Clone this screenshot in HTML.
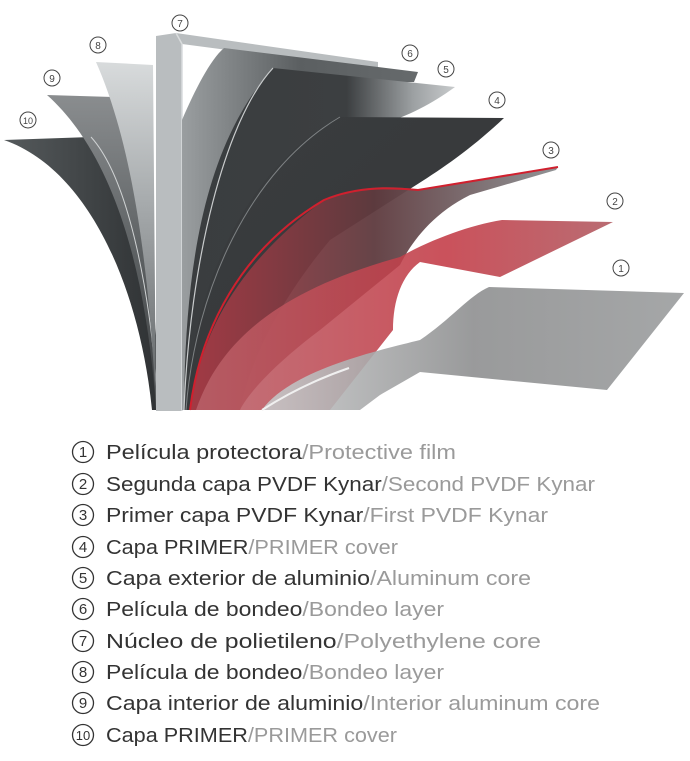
<!DOCTYPE html>
<html><head><meta charset="utf-8"><style>
html,body{margin:0;padding:0;background:#fff;}
svg{display:block;font-family:"Liberation Sans",sans-serif;}
</style></head><body>
<svg width="690" height="761" viewBox="0 0 690 761" xmlns="http://www.w3.org/2000/svg">
<defs>
<linearGradient id="g10" x1="0" y1="0" x2="1" y2="0"><stop offset="0" stop-color="#555a5c"/><stop offset="1" stop-color="#2f3234"/></linearGradient>
<linearGradient id="g9" x1="0" y1="0" x2="0" y2="1"><stop offset="0" stop-color="#8a8d8f"/><stop offset="0.5" stop-color="#5d6163"/><stop offset="1" stop-color="#3c3f41"/></linearGradient>
<linearGradient id="g8" x1="0" y1="0" x2="0" y2="1"><stop offset="0" stop-color="#d8dbdc"/><stop offset="0.4" stop-color="#a7abad"/><stop offset="1" stop-color="#5c6062"/></linearGradient>
<linearGradient id="g6" x1="0" y1="0" x2="1" y2="0"><stop offset="0" stop-color="#9a9ea0"/><stop offset="0.5" stop-color="#5b5f61"/><stop offset="1" stop-color="#666a6c"/></linearGradient>
<linearGradient id="g5" x1="0" y1="0" x2="1" y2="0"><stop offset="0" stop-color="#3a3d3f"/><stop offset="0.6" stop-color="#3c3f41"/><stop offset="0.85" stop-color="#9ea2a4"/><stop offset="1" stop-color="#c8cbcc"/></linearGradient>
<linearGradient id="g4" x1="0" y1="0" x2="1" y2="1"><stop offset="0" stop-color="#3a3d3f"/><stop offset="0.6" stop-color="#37393b"/><stop offset="1" stop-color="#4a3034"/></linearGradient>
<linearGradient id="g3" x1="0" y1="0" x2="1" y2="0"><stop offset="0" stop-color="#a83a45"/><stop offset="0.5" stop-color="#5e3a3e"/><stop offset="1" stop-color="#8b8e90"/></linearGradient>
<linearGradient id="g2" x1="0" y1="0" x2="1" y2="0"><stop offset="0" stop-color="#b86068"/><stop offset="0.6" stop-color="#c33a45"/><stop offset="1" stop-color="#b0585f"/></linearGradient>
<linearGradient id="g1" x1="0" y1="0" x2="1" y2="0"><stop offset="0" stop-color="#c8c9ca"/><stop offset="0.5" stop-color="#8e8f90"/><stop offset="1" stop-color="#9b9d9e"/></linearGradient>
</defs>

<!-- 10 -->
<path d="M4,140 L91,137 C130,180 152,300 158,410 L152,410 C140,290 90,170 4,140 Z" fill="url(#g10)"/>
<!-- 9 -->
<path d="M47,95 L113,97 C140,140 155,280 160,410 L156,410 C148,290 120,160 47,95 Z" fill="url(#g9)"/>
<path d="M91,137 C130,180 152,300 158,410" stroke="#cfd2d3" stroke-width="1" fill="none"/>
<!-- 8 -->
<path d="M96,62 L153,65 L156,410 C150,280 135,150 96,62 Z" fill="url(#g8)"/>
<!-- 7 stem -->
<path d="M156,36 L176,33 L378,62 L378,70 L182,44 L182,411 L156,411 Z" fill="#b9bdbf"/>
<path d="M176,33 L182,44 L182,411" stroke="#d9dcdd" stroke-width="1.5" fill="none"/>
<!-- 6 -->
<path d="M224,48 L418,72 L414,82 L300,82 C240,150 205,300 200,410 L182,410 L182,120 C195,90 210,60 224,48 Z" fill="url(#g6)"/>
<!-- 5 -->
<path d="M273,68 L455,87 C430,105 410,115 380,125 C280,190 225,320 215,410 L184,410 C185,280 200,150 273,68 Z" fill="url(#g5)"/>
<path d="M273,68 C225,120 190,260 184,410" stroke="#c9cccd" stroke-width="1.2" fill="none"/>
<!-- 4 -->
<path d="M340,117 L504,118 C470,150 440,170 413,187 L330,240 C280,300 250,360 240,410 L186,410 C190,300 240,170 340,117 Z" fill="url(#g4)"/>
<path d="M340,117 C250,170 195,290 186,410" stroke="#7e8284" stroke-width="1" fill="none"/>
<!-- 3 red -->
<path d="M418,190 L558,167 L556,170 L470,195 C430,215 410,245 400,265 L320,330 C280,360 250,390 240,410 L190,410 C200,340 230,270 324,200 C360,185 390,185 418,190 Z" fill="url(#g3)" opacity="0.95"/>
<path d="M190,410 C200,330 240,250 324,200 C360,185 395,188 418,190 L558,167" stroke="#d0202e" stroke-width="2" fill="none"/>
<!-- 2 -->
<path d="M502,220 L613,222 L500,277 L420,262 C402,275 393,300 393,330 L330,410 L196,410 C220,340 280,290 400,257 C430,240 470,225 502,220 Z" fill="url(#g2)" opacity="0.88"/>
<!-- 1 -->
<path d="M489,287 L684,293 L607,390 L420,372 L380,395 L360,410 L262,410 C290,370 380,350 420,340 C450,320 470,295 489,287 Z" fill="url(#g1)" opacity="0.9"/>
<path d="M349,368 C320,378 290,392 262,410" stroke="#f0f0f0" stroke-width="2" fill="none"/>

<!-- diagram labels -->
<g fill="none" stroke="#444" stroke-width="1">
<circle cx="180" cy="23" r="8"/><circle cx="98" cy="45" r="8"/><circle cx="52" cy="78" r="8"/><circle cx="28" cy="120" r="8"/>
<circle cx="410" cy="53" r="8"/><circle cx="446" cy="69" r="8"/><circle cx="497" cy="100" r="8"/><circle cx="551" cy="150" r="8"/>
<circle cx="615" cy="201" r="8"/><circle cx="621" cy="268" r="8"/>
</g>
<g fill="#444" font-size="10" text-anchor="middle">
<text x="180" y="27">7</text><text x="98" y="49">8</text><text x="52" y="82">9</text><text x="28" y="124" font-size="9">10</text>
<text x="410" y="57">6</text><text x="446" y="73">5</text><text x="497" y="104">4</text><text x="551" y="154">3</text>
<text x="615" y="205">2</text><text x="621" y="272">1</text>
</g>

<!-- legend -->
<g fill="none" stroke="#333" stroke-width="1.3">
<circle cx="83" cy="452" r="10.5"/><circle cx="83" cy="484" r="10.5"/><circle cx="83" cy="515" r="10.5"/><circle cx="83" cy="547" r="10.5"/><circle cx="83" cy="578" r="10.5"/>
<circle cx="83" cy="609" r="10.5"/><circle cx="83" cy="641" r="10.5"/><circle cx="83" cy="672" r="10.5"/><circle cx="83" cy="703" r="10.5"/><circle cx="83" cy="735" r="10.5"/>
</g>
<g fill="#333" font-size="15" text-anchor="middle">
<text x="83" y="457">1</text><text x="83" y="489">2</text><text x="83" y="520">3</text><text x="83" y="552">4</text><text x="83" y="583">5</text>
<text x="83" y="614">6</text><text x="83" y="646">7</text><text x="83" y="677">8</text><text x="83" y="708">9</text><text x="83" y="740" font-size="13">10</text>
</g>
<g font-size="20" fill="#333">
<text x="106" y="459" textLength="350" lengthAdjust="spacingAndGlyphs">Película protectora<tspan fill="#9a9a9a">/Protective film</tspan></text>
<text x="106" y="491" textLength="489" lengthAdjust="spacingAndGlyphs">Segunda capa PVDF Kynar<tspan fill="#9a9a9a">/Second PVDF Kynar</tspan></text>
<text x="106" y="522" textLength="442" lengthAdjust="spacingAndGlyphs">Primer capa  PVDF Kynar<tspan fill="#9a9a9a">/First PVDF Kynar</tspan></text>
<text x="106" y="554" textLength="292" lengthAdjust="spacingAndGlyphs">Capa PRIMER<tspan fill="#9a9a9a">/PRIMER cover</tspan></text>
<text x="106" y="585" textLength="425" lengthAdjust="spacingAndGlyphs">Capa exterior de aluminio<tspan fill="#9a9a9a">/Aluminum core</tspan></text>
<text x="106" y="616" textLength="338" lengthAdjust="spacingAndGlyphs">Película de bondeo<tspan fill="#9a9a9a">/Bondeo layer</tspan></text>
<text x="106" y="648" textLength="435" lengthAdjust="spacingAndGlyphs">Núcleo de polietileno<tspan fill="#9a9a9a">/Polyethylene core</tspan></text>
<text x="106" y="679" textLength="338" lengthAdjust="spacingAndGlyphs">Película de bondeo<tspan fill="#9a9a9a">/Bondeo layer</tspan></text>
<text x="106" y="710" textLength="494" lengthAdjust="spacingAndGlyphs">Capa interior de aluminio<tspan fill="#9a9a9a">/Interior aluminum core</tspan></text>
<text x="106" y="742" textLength="291" lengthAdjust="spacingAndGlyphs">Capa PRIMER<tspan fill="#9a9a9a">/PRIMER cover</tspan></text>
</g>
</svg>
</body></html>
